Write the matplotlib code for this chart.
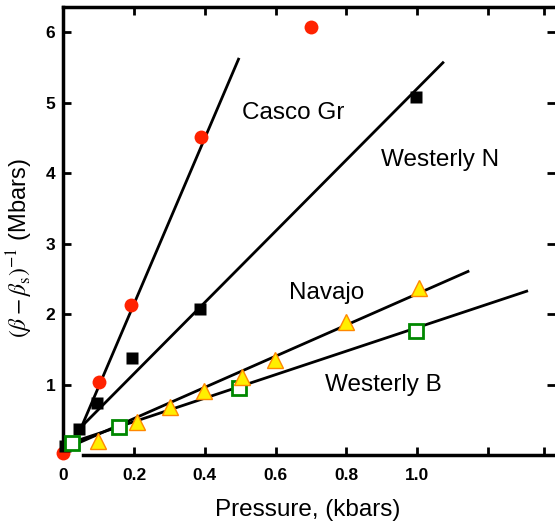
import matplotlib
matplotlib.use("Agg")
import matplotlib.pyplot as plt

# measured points
casco_x = [0.0, 0.1, 0.19, 0.39, 0.70]
casco_y = [0.04, 1.04, 2.13, 4.52, 6.07]
westn_x = [0.004, 0.045, 0.096, 0.195, 0.387, 0.997]
westn_y = [0.13, 0.37, 0.75, 1.38, 2.08, 5.09]
navajo_x = [0.098, 0.208, 0.30, 0.398, 0.505, 0.599, 0.80, 1.006]
navajo_y = [0.21, 0.47, 0.69, 0.91, 1.11, 1.36, 1.89, 2.37]
westb_x = [0.024, 0.156, 0.495, 0.997]
westb_y = [0.18, 0.40, 0.95, 1.76]

# fitted lines (end points)
casco_fit_x = [0.047, 0.495]
casco_fit_y = [0.36, 5.62]
westn_fit_x = [0.045, 1.073]
westn_fit_y = [0.38, 5.57]
navajo_fit_x = [0.03, 1.144]
navajo_fit_y = [0.15, 2.61]
westb_fit_x = [0.02, 1.31]
westb_fit_y = [0.18, 2.33]

x_ticks = [0, 0.2, 0.4, 0.6, 0.8, 1.0, 1.2, 1.36]
x_labels = ['0', '0.2', '0.4', '0.6', '0.8', '1.0', '', '']
y_ticks = [1, 2, 3, 4, 5, 6]

plt.rcParams['font.family'] = ['Liberation Sans', 'DejaVu Sans']
plt.rcParams['mathtext.fontset'] = 'stix'

fig = plt.figure(figsize=(5.55, 5.25), dpi=100)
ax = fig.add_axes([0.1144, 0.1324, 0.8856, 0.8543])

lw = 2.0
ax.plot(casco_fit_x, casco_fit_y, color='black', lw=lw, zorder=2)
ax.plot(westn_fit_x, westn_fit_y, color='black', lw=lw, zorder=2)
ax.plot(navajo_fit_x, navajo_fit_y, color='black', lw=lw, zorder=2)
ax.plot(westb_fit_x, westb_fit_y, color='black', lw=lw, zorder=2)

ax.plot(casco_x, casco_y, 'o', color='#ff2200', ms=10, mec='none', zorder=3, clip_on=False)
ax.plot(westn_x, westn_y, 's', color='black', ms=8.5, mec='none', zorder=4, clip_on=False)
ax.plot(westb_x, westb_y, 's', mfc='white', mec='#008800', mew=2, ms=9.5, zorder=5, clip_on=False)
ax.plot(navajo_x, navajo_y, '^', mfc='#ffee00', mec='#ff8800', mew=1, ms=11, zorder=6, clip_on=False)

ax.text(0.649, 4.86, 'Casco Gr', fontsize=17.5, ha='center', va='center')
ax.text(1.065, 4.19, 'Westerly N', fontsize=17.5, ha='center', va='center')
ax.text(0.745, 2.30, 'Navajo', fontsize=17.5, ha='center', va='center')
ax.text(0.904, 1.0, 'Westerly B', fontsize=17.5, ha='center', va='center')

ax.set_xlim(0, 1.39)
ax.set_ylim(0, 6.36)
ax.set_xticks(x_ticks)
ax.set_xticklabels(x_labels, fontweight='bold', fontsize=12.5)
ax.set_yticks(y_ticks)
ax.set_yticklabels([str(v) for v in y_ticks], fontweight='bold', fontsize=12.5)
ax.tick_params(direction='in', length=6, width=2, top=True, right=True, pad=6)
ax.tick_params(axis='x', pad=9)

for side in ['left', 'top', 'bottom']:
    ax.spines[side].set_linewidth(2.5)
ax.spines['right'].set_visible(False)
ax.spines['bottom'].set_bounds(0.055, 1.39)

ax.set_xlabel('Pressure, (kbars)', fontsize=17.5)
ax.xaxis.set_label_coords(0.496, -0.098)
ax.set_ylabel(r'$(\beta-\beta_{\rm s})^{-1}$ (Mbars)', fontsize=17)
ax.yaxis.set_label_coords(-0.057, 0.463)

fig.savefig('out.png', dpi=100)
